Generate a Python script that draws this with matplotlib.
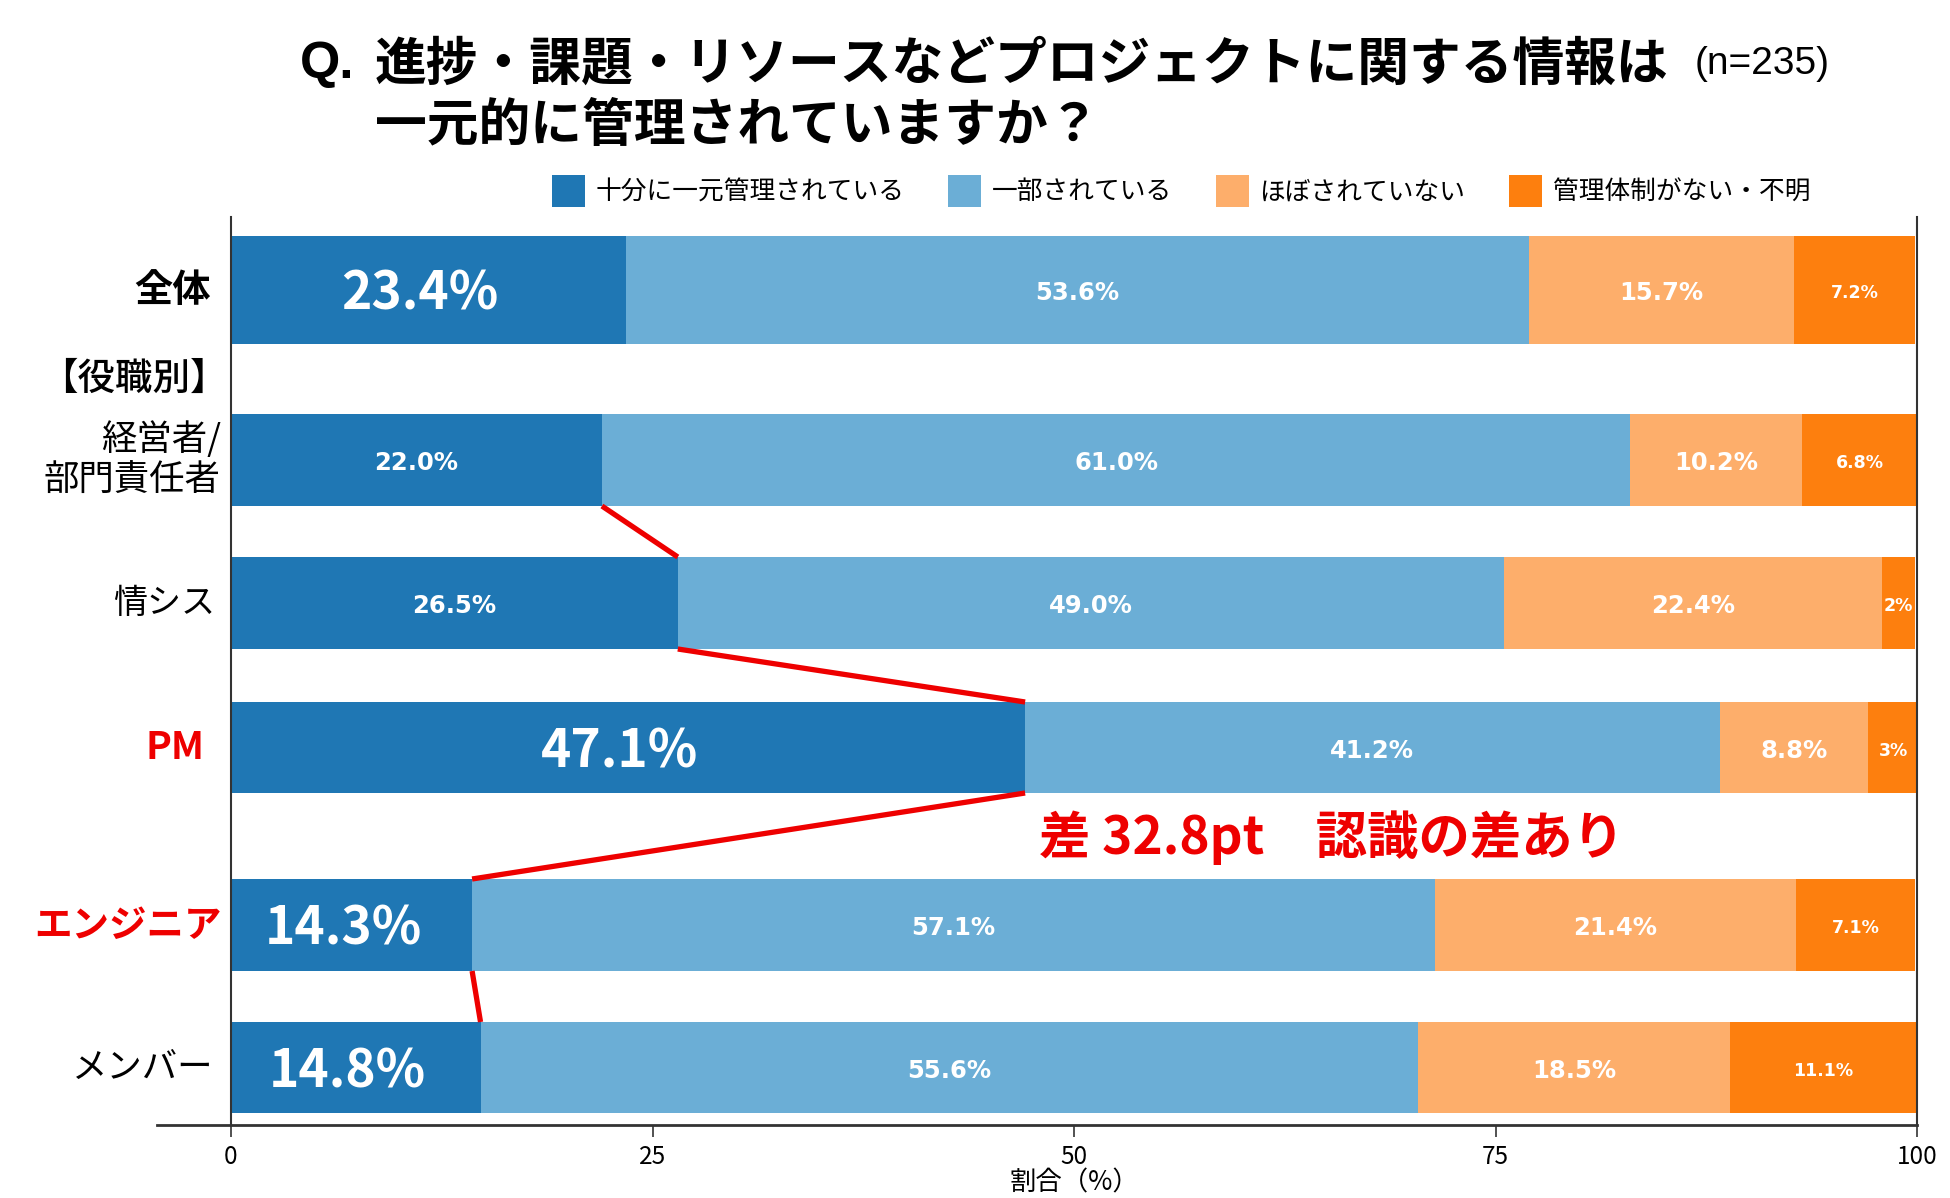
import matplotlib
matplotlib.use("Agg")
import matplotlib.pyplot as plt
from matplotlib.patches import Patch
from matplotlib.lines import Line2D
import numpy as np

plt.rcParams['font.family'] = ['Noto Sans CJK JP', 'DejaVu Sans']

# ---------------- data ----------------
categories = ["全体", "経営者/\n部門責任者", "情シス", "PM", "エンジニア", "メンバー"]
series_names = ["十分に一元管理されている", "一部されている", "ほぼされていない", "管理体制がない・不明"]
s_full = [23.4, 22.0, 26.5, 47.1, 14.3, 14.8]
s_part = [53.6, 61.0, 49.0, 41.2, 57.1, 55.6]
s_hardly = [15.7, 10.2, 22.4, 8.8, 21.4, 18.5]
s_none = [7.2, 6.8, 2.0, 3.0, 7.1, 11.1]
label_full = ["23.4%", "22.0%", "26.5%", "47.1%", "14.3%", "14.8%"]
label_part = ["53.6%", "61.0%", "49.0%", "41.2%", "57.1%", "55.6%"]
label_hardly = ["15.7%", "10.2%", "22.4%", "8.8%", "21.4%", "18.5%"]
label_none = ["7.2%", "6.8%", "2%", "3%", "7.1%", "11.1%"]
group_label = "【役職別】"
title_q = "Q."
title_line1 = "進捗・課題・リソースなどプロジェクトに関する情報は"
title_line2 = "一元的に管理されていますか？"
title_n = "(n=235)"
annotation = "差 32.8pt　認識の差あり"
x_ticks = [0, 25, 50, 75, 100]
x_label = "割合（%）"

# ---------------- style / layout ----------------
colors = ["#1f77b4", "#6baed6", "#fdae6b", "#fd7f0e"]
W, H = 1950, 1198
row_y = [290, 460, 603, 747.5, 925, 1067.5]     # layout rows (pixel-like units)
row_h = [108, 92, 92, 91, 92, 91]
group_y = 379
big_rows = {0, 3, 4, 5}
label_colors = ["black", "black", "black", "#ee0000", "#ee0000", "black"]
label_weights = ["bold", "normal", "normal", "bold", "bold", "normal"]
label_sizes = [27.5, 25.5, 24.5, 28, 27, 25.5]
label_x = [-1.2, -0.6, -0.95, -1.6, -0.55, -1.05]

fig = plt.figure(figsize=(W / 100, H / 100), dpi=100)
ax = fig.add_axes([231 / W, 1 - 1125 / H, 1686 / W, (1125 - 217) / H])
ax.set_xlim(0, 100)
ax.set_ylim(1125, 217)

series = [s_full, s_part, s_hardly, s_none]
labels = [label_full, label_part, label_hardly, label_none]
lefts = np.zeros(len(categories))
for j, vals in enumerate(series):
    vals = np.array(vals)
    ax.barh(row_y, vals, left=lefts, height=row_h, color=colors[j],
            label=series_names[j], linewidth=0)
    for i, v in enumerate(vals):
        cx = lefts[i] + v / 2
        if j == 0 and i in big_rows:
            ax.text(cx - 0.5, row_y[i] + 4, labels[j][i], color="white", ha="center", va="center",
                    fontsize=37, fontweight="bold")
        else:
            fs = 12.5 if j == 3 else 17.5
            ax.text(cx, row_y[i] + 3, labels[j][i], color="white", ha="center", va="center",
                    fontsize=fs, fontweight="bold", family=["DejaVu Sans"])
    lefts = lefts + vals

# category labels
for i, c in enumerate(categories):
    ax.text(label_x[i], row_y[i], c, ha="right", va="center", fontsize=label_sizes[i],
            color=label_colors[i], fontweight=label_weights[i], linespacing=1.2,
            clip_on=False)
ax.text(-0.2, group_y, group_label, ha="right", va="center", fontsize=27,
        color="black", fontweight="medium", clip_on=False)

# red connector lines between "十分に一元管理されている" ends
for i in range(1, len(categories) - 1):
    x0, y0 = s_full[i], row_y[i] + row_h[i] / 2
    x1, y1 = s_full[i + 1], row_y[i + 1] - row_h[i + 1] / 2
    ax.plot([x0, x1], [y0, y1], color="#ee0000", lw=3.8, solid_capstyle="butt", zorder=5)

ax.text(47.9, 838, annotation, color="#ee0000", fontsize=37, fontweight="bold",
        ha="left", va="center")

# axes styling
ax.set_yticks([])
ax.set_xticks(x_ticks)
ax.set_xticklabels([str(t) for t in x_ticks])
ax.tick_params(axis="x", length=8.6, width=1.2, color="#333333", pad=5, labelsize=17.5)
ax.spines["top"].set_visible(False)
ax.spines["bottom"].set_visible(False)
for s in ["left", "right"]:
    ax.spines[s].set_color("#333333")
    ax.spines[s].set_linewidth(1.5)
ax.add_line(Line2D([-0.044, 1.0], [0, 0], transform=ax.transAxes, color="#333333",
                   lw=2, clip_on=False))
ax.set_xlabel(x_label, fontsize=19, labelpad=0)

# title
fig.text(300 / W, 1 - 64 / H, title_q, fontsize=37.3, fontweight="bold", ha="left", va="center",
         family=["Liberation Sans", "DejaVu Sans"])
fig.text(375 / W, 1 - 64 / H, title_line1, fontsize=37.3, fontweight="bold", ha="left", va="center")
fig.text(375 / W, 1 - 126 / H, title_line2, fontsize=37.3, fontweight="bold", ha="left", va="center")
fig.text(1695 / W, 1 - 64 / H, title_n, fontsize=28, ha="left", va="center",
         family=["Liberation Sans", "DejaVu Sans"])

# legend
handles = [Patch(facecolor=colors[j], edgecolor="none", label=series_names[j]) for j in range(4)]
fig.legend(handles=handles, loc="center left", bbox_to_anchor=(552 / W, 1 - 191 / H),
           ncol=4, frameon=False, fontsize=18.5, handlelength=1.28, handleheight=1.56,
           handletextpad=0.4, columnspacing=1.72, borderpad=0, borderaxespad=0)

fig.savefig("out.png", dpi=100, facecolor="white")
